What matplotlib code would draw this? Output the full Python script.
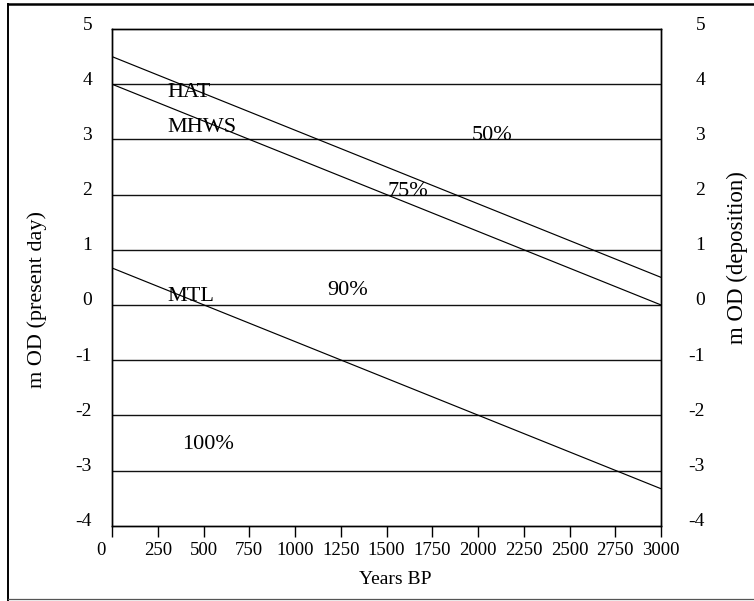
import matplotlib
matplotlib.use("Agg")
import matplotlib.pyplot as plt
import matplotlib.transforms as mtransforms
from matplotlib.lines import Line2D

# Tide levels through time (m OD, present-day datum) at 0 and 3000 years BP
years = [0, 3000]
hat = [4.5, 0.5]
mhws = [4.0, 0.0]
mtl = [0.67, -3.33]

x_ticks = [0, 250, 500, 750, 1000, 1250, 1500, 1750, 2000, 2250, 2500, 2750, 3000]
y_ticks = [-4, -3, -2, -1, 0, 1, 2, 3, 4, 5]
grid_levels = [-3, -2, -1, 0, 1, 2, 3, 4]

# Curve names and inundation-percentage zones: (text, x, baseline y)
curve_labels = [("HAT", 300, 3.77), ("MHWS", 300, 3.13), ("MTL", 300, 0.07)]
zone_labels = [("50%", 1967, 2.99), ("75%", 1503, 1.97),
               ("90%", 1175, 0.18), ("100%", 382, -2.61)]

plt.rcParams["font.family"] = ["Liberation Serif", "DejaVu Serif"]

fig = plt.figure(figsize=(7.54, 6.01), dpi=100)
ax = fig.add_axes([112 / 754, 1 - 525.7 / 601, (661 - 112) / 754, (525.7 - 29) / 601])

ax.set_xlim(0, 3000)
ax.set_ylim(-4, 5)

for lvl in grid_levels:
    ax.axhline(lvl, color="#111111", lw=1.0, zorder=1)

ax.plot(years, hat, color="black", lw=0.85, zorder=2)
ax.plot(years, mhws, color="black", lw=0.85, zorder=2)
ax.plot(years, mtl, color="black", lw=0.85, zorder=2)

for txt, x, y in curve_labels + zone_labels:
    ax.text(x, y, txt, fontsize=16, ha="left", va="baseline", zorder=3)

for s in ax.spines.values():
    s.set_linewidth(1.0)
    s.set_color("black")

ax.set_xticks(x_ticks)
ax.set_xticklabels([str(v) for v in x_ticks])
ax.tick_params(axis="x", direction="out", length=8, width=1.0, pad=4, labelsize=13.5)
ax.set_yticks(y_ticks)
ax.set_yticklabels([str(v) for v in y_ticks])
ax.tick_params(axis="y", length=0, pad=14.4, labelsize=14)

# the "0" year label sits a little left of its tick
xlabs = ax.get_xticklabels()
xlabs[0].set_transform(xlabs[0].get_transform() +
                       mtransforms.ScaledTranslation(-11 / 100, 0, fig.dpi_scale_trans))

ax2 = ax.twinx()
ax2.set_ylim(-4, 5)
ax2.set_yticks(y_ticks)
ax2.set_yticklabels([str(v) for v in y_ticks])
ax2.tick_params(axis="y", length=0, pad=31.7, labelsize=14)
for s in ax2.spines.values():
    s.set_linewidth(1.0)

shift = mtransforms.ScaledTranslation(0, 6 / 100, fig.dpi_scale_trans)
for lab in ax.get_yticklabels():
    lab.set_transform(lab.get_transform() + shift)
for lab in ax2.get_yticklabels():
    lab.set_ha("right")
    lab.set_transform(lab.get_transform() + shift)

fig.text(395 / 754, 1 - 580 / 601, "Years BP", fontsize=14, ha="center", va="center")
fig.text(37 / 754, 1 - 300 / 601, "m OD (present day)", fontsize=16,
         rotation=90, ha="center", va="center")
fig.text(737 / 754, 1 - 258 / 601, "m OD (deposition)", fontsize=16.5,
         rotation=90, ha="center", va="center")

# page frame: heavy top and left rules, lighter bottom rule
def fx(px):
    return px / 754

def fy(py):
    return 1 - py / 601

fig.lines.append(Line2D([fx(8), fx(754)], [fy(4), fy(4)], transform=fig.transFigure,
                        color="black", lw=1.8))
fig.lines.append(Line2D([fx(8), fx(8)], [fy(4), fy(601)], transform=fig.transFigure,
                        color="black", lw=1.4))
fig.lines.append(Line2D([fx(8), fx(754)], [fy(599), fy(599)], transform=fig.transFigure,
                        color="#555555", lw=0.9))

fig.savefig("out.png", dpi=100)
